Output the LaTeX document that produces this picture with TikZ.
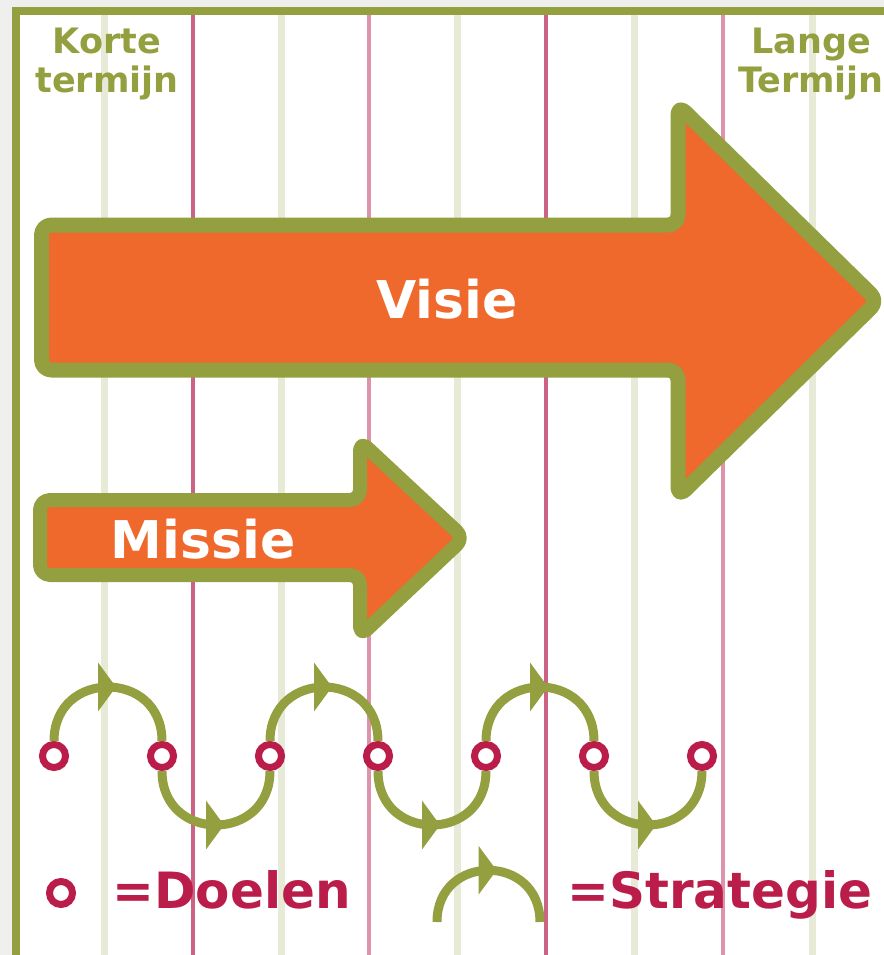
\documentclass[tikz,border=0pt]{standalone}
\usepackage{fontspec}
\setmainfont{DejaVu Sans}
\usepackage{tikz}
\usetikzlibrary{arrows.meta, decorations.markings}
\definecolor{olijf}{HTML}{94A03F}
\definecolor{oranje}{HTML}{EF682C}
\definecolor{karmijn}{HTML}{BA1D4A}
\definecolor{lichtgroen}{HTML}{E6EAD6}
\definecolor{roze}{HTML}{DD93AC}
\definecolor{donkerroze}{HTML}{CC6284}
\definecolor{achtergrond}{HTML}{EFEFED}
\tikzstyle{pijl} = [draw=olijf, fill=oranje, line width=7.5pt, rounded corners=5pt, line join=round]
\tikzstyle{pijltekst} = [text=white, font=\fontsize{26}{30}\selectfont\bfseries, inner sep=0, anchor=base]
\tikzstyle{termijn} = [text=olijf, font=\fontsize{17.5}{19.5}\selectfont\bfseries, align=center, inner sep=0, anchor=north]
\tikzstyle{doel} = [circle, draw=karmijn, fill=white, line width=3.5pt, minimum size=11.5pt, inner sep=0]
\tikzstyle{strat} = [color=olijf, line width=4.5pt, postaction={decorate}, decoration={markings, mark=at position 0.5 with {\arrow[xshift=4pt]{Triangle[length=9pt,width=24pt]}}}]
\tikzstyle{legenda} = [text=karmijn, font=\fontsize{25}{30}\selectfont\bfseries, inner sep=0, anchor=base west]
\tikzstyle{rooster} = [draw=lichtgroen, line width=3.5pt]
\tikzstyle{rozelijn} = [draw=roze, line width=1.6pt]

\begin{document}
\begin{tikzpicture}[x=0.5pt, y=-0.5pt, node distance=54pt]
	\useasboundingbox (0,0) rectangle (884,955);
	\clip (0,0) rectangle (884,955);
	% achtergrond en kader
	\fill[achtergrond] (0,0) rectangle (884,955);
	\fill[white] (15.5,11) rectangle (884,955);
	\draw[rooster] (104,15) -- (104,955);
	\draw[rooster] (281,15) -- (281,955);
	\draw[rooster] (457,15) -- (457,955);
	\draw[rooster] (634,15) -- (634,955);
	\draw[rooster] (812,15) -- (812,955);
	\draw[rozelijn, draw=donkerroze] (193,15) -- (193,955);
	\draw[rozelijn] (369,15) -- (369,955);
	\draw[rozelijn, draw=donkerroze] (546,15) -- (546,955);
	\draw[rozelijn] (723,15) -- (723,955);
	\draw[olijf, line width=4pt] (15.5,955) -- (15.5,11) -- (884,11);
	\node (kort) [termijn] at (107,28) {Korte\\termijn};
	\node (lang) [termijn] at (811,28) {Lange\\Termijn};
	% pijlen
	\draw[pijl] (41.5,225) -- (678,225) -- (678,105) -- (878,301) -- (678,497) -- (678,370) -- (41.5,370) -- cycle;
	\node (visie) [pijltekst] at (447,318) {Visie};
	\draw[pijl, line width=7pt] (40,500) -- (360,500) -- (360,441) -- (464,538) -- (360,636) -- (360,575) -- (40,575) -- cycle;
	\node (missie) [pijltekst] at (203,558) {Missie};
	% doelen en strategie
	\node (d1) [doel] at (54,756) {};
	\node (d2) [doel, right of=d1] {};
	\node (d3) [doel, right of=d2] {};
	\node (d4) [doel, right of=d3] {};
	\node (d5) [doel, right of=d4] {};
	\node (d6) [doel, right of=d5] {};
	\node (d7) [doel, right of=d6] {};
	\draw[strat] (d1.north) .. controls +(0,-72) and +(0,-72) .. (d2.north);
	\draw[strat] (d2.south) .. controls +(0,72) and +(0,72) .. (d3.south);
	\draw[strat] (d3.north) .. controls +(0,-72) and +(0,-72) .. (d4.north);
	\draw[strat] (d4.south) .. controls +(0,72) and +(0,72) .. (d5.south);
	\draw[strat] (d5.north) .. controls +(0,-72) and +(0,-72) .. (d6.north);
	\draw[strat] (d6.south) .. controls +(0,72) and +(0,72) .. (d7.south);
	% legenda
	\node (legdoel) [doel] at (61,893) {};
	\node (doelen) [legenda] at (112,908) {=Doelen};
	\coordinate (s1) at (437,922);
	\coordinate (s2) at (540,922);
	\draw[strat] (s1) .. controls +(0,-69) and +(0,-69) .. (s2);
	\node (strategie) [legenda] at (567,908) {=Strategie};
\end{tikzpicture}
\end{document}
